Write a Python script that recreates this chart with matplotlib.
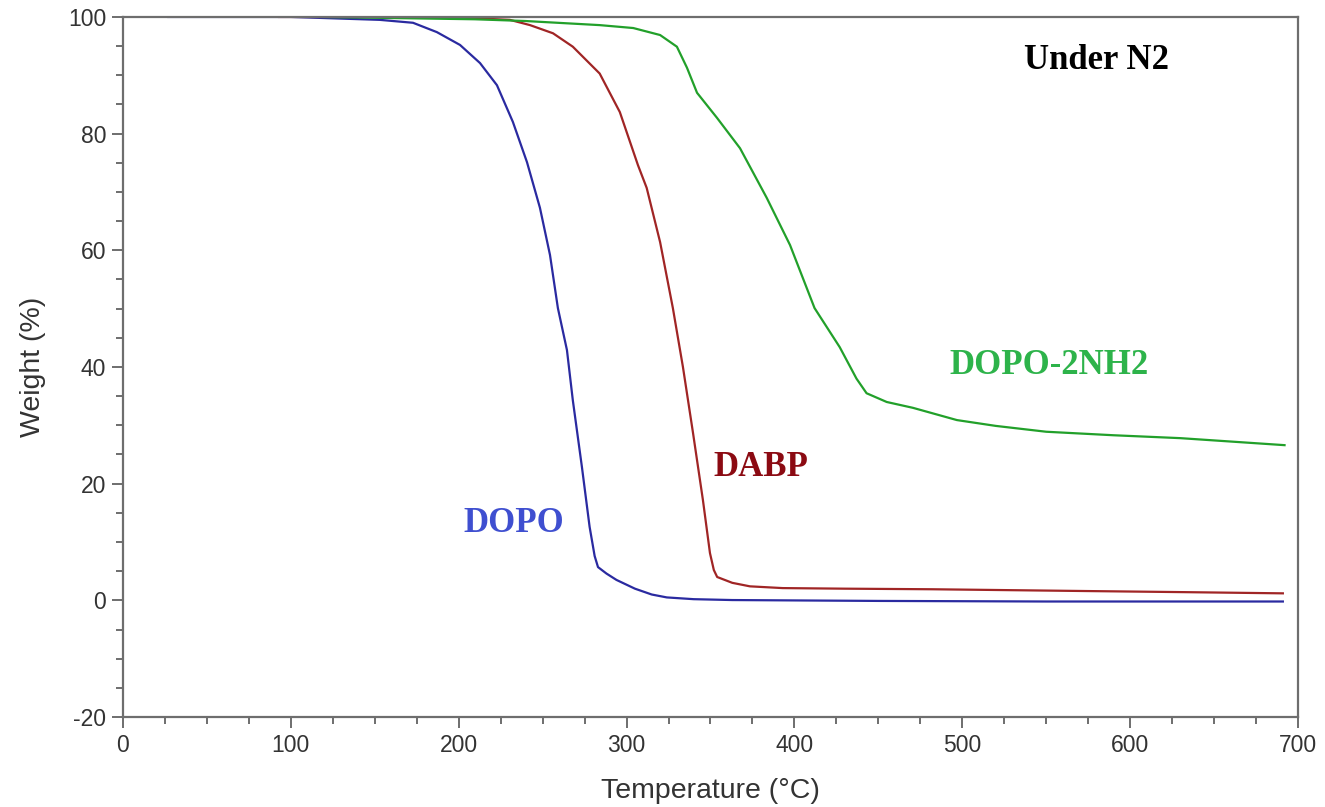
import matplotlib.pyplot as plt
from matplotlib.ticker import MultipleLocator

# TGA curves under nitrogen
dopo_t = [27, 100, 153, 172.8, 187, 200.8, 212.7, 222.8, 232.3, 240.7, 248.4, 254.4, 259.1,
          264.5, 268, 273.4, 278, 281, 283, 288, 294, 305, 315, 324, 340, 363, 450, 550, 691]
dopo_w = [100, 100, 99.5, 99.0, 97.4, 95.2, 92.1, 88.3, 82.0, 75.1, 67.3, 59.2, 50.1,
          42.9, 34.3, 22.9, 12.6, 7.6, 5.7, 4.6, 3.5, 2.0, 1.0, 0.5, 0.2, 0.05, -0.1, -0.2, -0.2]

dabp_t = [93, 150, 200, 230.5, 242.5, 256.2, 268, 284, 296, 306.8, 312, 320, 327.6, 333.6,
          339.6, 345.5, 349.7, 352, 354, 363, 373.5, 393, 430, 482, 572, 634, 691]
dabp_w = [100, 100, 99.9, 99.5, 98.6, 97.2, 94.9, 90.3, 83.7, 74.6, 70.7, 61.4, 50.1, 40,
          28.7, 17.2, 8.1, 5.2, 4.0, 3.0, 2.4, 2.1, 2.0, 1.9, 1.6, 1.4, 1.2]

nh2_t = [118, 209.7, 240, 284, 304, 320, 330, 336, 342, 353.9, 367.6, 383.5, 397.4, 412,
         427, 437, 443, 455, 470.6, 496.8, 520, 550, 590, 630, 692]
nh2_w = [100, 99.6, 99.3, 98.6, 98.1, 96.9, 94.9, 91.3, 87.0, 82.7, 77.5, 69.0, 60.9, 50.1,
         43.4, 38, 35.5, 34.0, 33.0, 30.9, 29.9, 28.9, 28.3, 27.8, 26.6]

plt.rcParams['font.family'] = 'Liberation Sans'
plt.rcParams['axes.unicode_minus'] = False

fig = plt.figure(figsize=(13.25, 8.07), dpi=100)
ax = fig.add_axes([0.0928, 0.1115, 0.8868, 0.8675])

ax.plot(dopo_t, dopo_w, color='#2a2aa0', lw=1.6)
ax.plot(dabp_t, dabp_w, color='#a02525', lw=1.6)
ax.plot(nh2_t, nh2_w, color='#22a02a', lw=1.6)

ax.set_xlim(0, 700)
ax.set_ylim(-20, 100)
ax.xaxis.set_major_locator(MultipleLocator(100))
ax.xaxis.set_minor_locator(MultipleLocator(25))
ax.yaxis.set_major_locator(MultipleLocator(20))
ax.yaxis.set_minor_locator(MultipleLocator(5))

grey = '#6e6e6e'
for s in ax.spines.values():
    s.set_color(grey)
    s.set_linewidth(1.6)
ax.tick_params(which='major', length=8, width=1.4, color=grey, labelsize=16.5,
               labelcolor='#333333', direction='out', pad=4)
ax.tick_params(which='minor', length=5, width=1.4, color=grey, direction='out')

ax.set_xlabel('Temperature (°C)', fontsize=20.5, color='#333333', labelpad=15)
ax.set_ylabel('Weight (%)', fontsize=20.5, color='#333333', labelpad=16)

serif = dict(family='Liberation Serif', fontweight='bold', fontsize=25, va='center')
ax.text(537, 92.6, 'Under N2', color='black', **serif)
ax.text(492.5, 40.3, 'DOPO-2NH2', color='#2db34a', **serif)
ax.text(351.5, 22.7, 'DABP', color='#8b0a12', **serif)
ax.text(203, 13.1, 'DOPO', color='#3f4fd0', **serif)

fig.savefig('out.png', dpi=100)
